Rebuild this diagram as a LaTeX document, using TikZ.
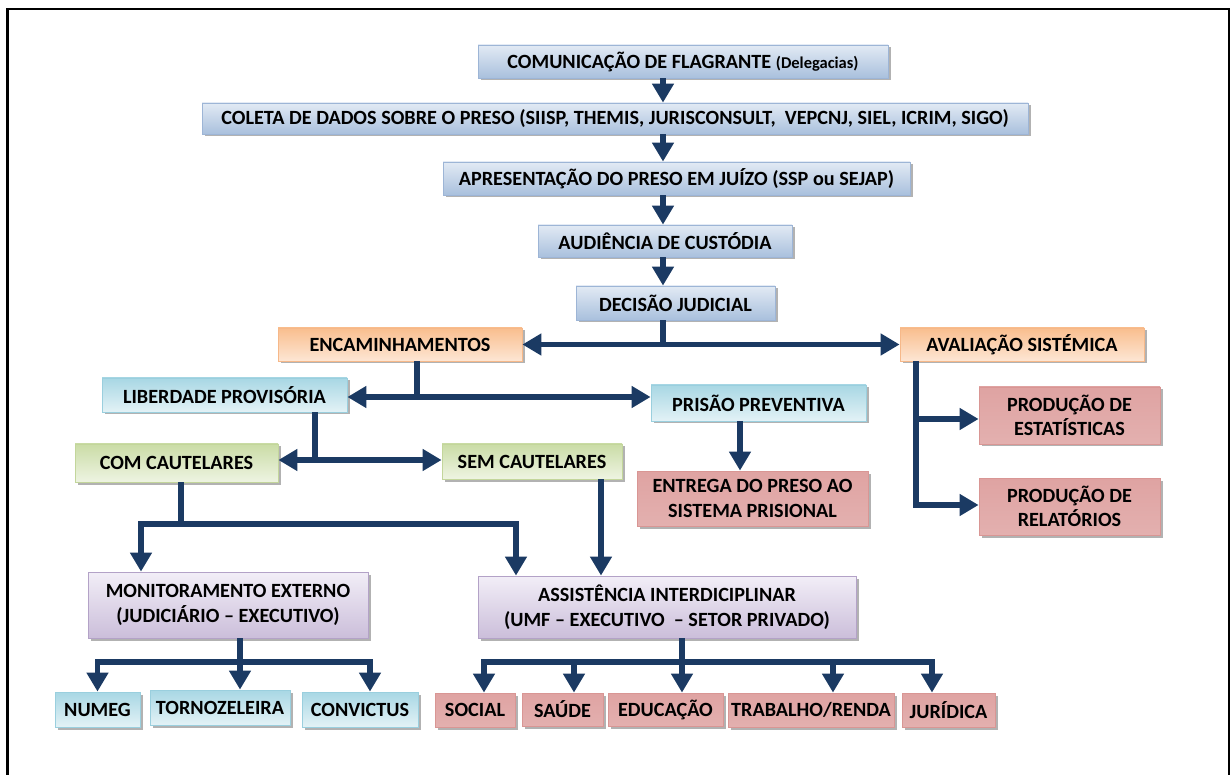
\documentclass[tikz,border=0pt]{standalone}
\usepackage{fontspec}
\setmainfont{Carlito}
\usetikzlibrary{arrows.meta,shadows}
\definecolor{navy}{HTML}{1B3A63}
\definecolor{bluetop}{HTML}{E2EAF4}
\definecolor{bluebot}{HTML}{A9C0DD}
\definecolor{bluebd}{HTML}{9DB5D6}
\definecolor{orgtop}{HTML}{F9BE8E}
\definecolor{orgbot}{HTML}{FDE6D4}
\definecolor{orgbd}{HTML}{F6B889}
\definecolor{cyantop}{HTML}{A8D7E4}
\definecolor{cyanbot}{HTML}{E3F2F6}
\definecolor{cyanbd}{HTML}{9ACFDE}
\definecolor{grntop}{HTML}{CADCA6}
\definecolor{grnbot}{HTML}{EEF4E2}
\definecolor{grnbd}{HTML}{C3D69B}
\definecolor{redtop}{HTML}{DFA3A2}
\definecolor{redmid}{HTML}{F2D8D8}
\definecolor{redbot}{HTML}{E3B0AF}
\definecolor{redbd}{HTML}{D99694}
\definecolor{purtop}{HTML}{F2EEF7}
\definecolor{purbot}{HTML}{CBBEDA}
\definecolor{purbd}{HTML}{B3A2C7}
\tikzset{
  base/.style={rectangle, inner sep=0pt, align=center, text=black,
    font=\bfseries\fontsize{20.2}{24.5}\selectfont, line width=0.8pt,
    drop shadow={shadow xshift=2.5pt, shadow yshift=-2.5pt, fill=black, opacity=0.3}},
  bluebox/.style={base, draw=bluebd, top color=bluetop, bottom color=bluebot},
  orgbox/.style={base, draw=orgbd, top color=orgtop, bottom color=orgbot},
  cyanbox/.style={base, draw=cyanbd, top color=cyantop, bottom color=cyanbot},
  grnbox/.style={base, draw=grnbd, top color=grntop, bottom color=grnbot},
  redbox/.style={base, draw=redbd, top color=redtop, middle color=redmid, bottom color=redbot},
  purbox/.style={base, draw=purbd, top color=purtop, bottom color=purbot},
  conn/.style={draw=navy, line width=5.5pt, line join=miter},
  arr/.style={conn, -{Triangle[width=21pt,length=19pt]}},
  dbl/.style={conn, {Triangle[width=21pt,length=19pt]}-{Triangle[width=21pt,length=19pt]}},
}
\begin{document}
\begin{tikzpicture}[x=1pt,y=-1pt]
\useasboundingbox (0,0) rectangle (1232,775);
% frame
\draw[line width=1.5pt] (7,9) -- (1229,9);
\draw[line width=3pt] (7,8.25) -- (7,775);
\draw[line width=2pt] (1229,8.25) -- (1229,775);

% nodes
\node[bluebox, minimum width=410pt, minimum height=33pt] (n1) at (683,61.5) {COMUNICAÇÃO DE FLAGRANTE {\fontsize{16.5}{20}\selectfont (Delegacias)}};
\node[bluebox, minimum width=826pt, minimum height=31pt] (n2) at (615,118.5) {COLETA DE DADOS SOBRE O PRESO (SIISP, THEMIS, JURISCONSULT,~ VEPCNJ, SIEL, ICRIM, SIGO)};
\node[bluebox, minimum width=467pt, minimum height=33pt] (n3) at (676.5,178.5) {APRESENTAÇÃO DO PRESO EM JUÍZO (SSP ou SEJAP)};
\node[bluebox, minimum width=254pt, minimum height=32pt] (n4) at (665,241) {AUDIÊNCIA DE CUSTÓDIA};
\node[bluebox, minimum width=199pt, minimum height=34pt] (n5) at (675.5,303) {DECISÃO JUDICIAL};
\node[orgbox, minimum width=244pt, minimum height=33pt] (n6) at (400,344.5) {ENCAMINHAMENTOS};
\node[orgbox, minimum width=244pt, minimum height=33pt] (n7) at (1022,344.5) {AVALIAÇÃO SISTÉMICA};
\node[cyanbox, minimum width=245pt, minimum height=34pt] (n8) at (224.5,395) {LIBERDADE PROVISÓRIA};
\node[cyanbox, minimum width=215pt, minimum height=36pt] (n9) at (758.5,403) {PRISÃO PREVENTIVA};
\node[grnbox, minimum width=203pt, minimum height=38pt] (n10) at (176.5,463) {COM CAUTELARES};
\node[grnbox, minimum width=180pt, minimum height=35pt] (n11) at (532,461.5) {SEM CAUTELARES};
\node[redbox, minimum width=231pt, minimum height=55pt] (n12) at (752.5,498.5) {ENTREGA DO PRESO AO\\SISTEMA PRISIONAL};
\node[redbox, minimum width=181pt, minimum height=57pt] (n13) at (1069.5,415.5) {PRODUÇÃO DE\\ESTATÍSTICAS};
\node[redbox, minimum width=181pt, minimum height=57pt] (n14) at (1069.5,506.5) {PRODUÇÃO DE\\RELATÓRIOS};
\node[purbox, minimum width=280pt, minimum height=66pt] (n15) at (228,605) {MONITORAMENTO EXTERNO\\(JUDICIÁRIO -- EXECUTIVO)};
\node[purbox, minimum width=378pt, minimum height=62pt] (n16) at (667,607) {ASSISTÊNCIA INTERDICIPLINAR\\(UMF -- EXECUTIVO~ -- SETOR PRIVADO)};
\node[cyanbox, minimum width=85pt, minimum height=35pt] (n17) at (97.5,709.5) {NUMEG};
\node[cyanbox, minimum width=140pt, minimum height=35pt] (n18) at (220,707.5) {TORNOZELEIRA};
\node[cyanbox, minimum width=116pt, minimum height=35pt] (n19) at (360,709.5) {CONVICTUS};
\node[redbox, minimum width=80pt, minimum height=34pt] (n20) at (475,710) {SOCIAL};
\node[redbox, minimum width=81pt, minimum height=33pt] (n21) at (562.5,709.5) {SAÚDE};
\node[redbox, minimum width=115pt, minimum height=33pt] (n22) at (665.5,709.5) {EDUCAÇÃO};
\node[redbox, minimum width=166pt, minimum height=34pt] (n23) at (811,710) {TRABALHO/RENDA};
\node[redbox, minimum width=93pt, minimum height=34pt] (n24) at (948.5,710) {JURÍDICA};

% helper coordinates
\coordinate (cx) at (663,0);
\coordinate (e1) at (417,397);
\coordinate (l1) at (315,460);
\coordinate (px) at (740,0);
\coordinate (ax) at (916,0);
\coordinate (ay1) at (0,419);
\coordinate (ay2) at (0,505);
\coordinate (c1) at (181,524);
\coordinate (cl) at (141,0);
\coordinate (cr) at (516,0);
\coordinate (sx) at (601,0);
\coordinate (m1) at (240,662);
\coordinate (x370) at (370,0);
\coordinate (a1) at (682,662);
\coordinate (x484) at (484,0);
\coordinate (x574) at (574,0);
\coordinate (x833) at (833,0);
\coordinate (x932) at (932,0);

% connectors
\draw[arr] (n1.south -| cx) -- (n2.north -| cx);
\draw[arr] (n2.south -| cx) -- (n3.north -| cx);
\draw[arr] (n3.south -| cx) -- (n4.north -| cx);
\draw[arr] (n4.south -| cx) -- (n5.north -| cx);
\draw[conn] (n5.south -| cx) -- (n6.east -| cx);
\draw[dbl] (n6.east) -- (n7.west);

\draw[conn] (n6.south -| e1) -- (e1);
\draw[dbl] (n8.east |- e1) -- (n9.west |- e1);

\draw[conn] (n8.south -| l1) -- (l1);
\draw[dbl] (n10.east |- l1) -- (n11.west |- l1);

\draw[arr] (n9.south -| px) -- (n12.north -| px);

\draw[arr] (n7.south -| ax) |- (n14.west |- ay2);
\draw[arr] (ax |- ay1) -- (n13.west |- ay1);

\draw[conn] (n10.south -| c1) -- (c1);
\draw[arr] (c1) -| (n15.north -| cl);
\draw[arr] (c1) -| (n16.north -| cr);
\draw[arr] (n11.south -| sx) -- (n16.north -| sx);

\draw[arr] (n15.south -| m1) -- (n18.north -| m1);
\draw[arr] (m1) -| (n17.north);
\draw[arr] (m1) -| (n19.north -| x370);

\draw[arr] (n16.south -| a1) -- (n22.north -| a1);
\draw[arr] (a1) -| (n20.north -| x484);
\draw[arr] (a1) -| (n21.north -| x574);
\draw[arr] (a1) -| (n23.north -| x833);
\draw[arr] (a1) -| (n24.north -| x932);
\end{tikzpicture}
\end{document}
